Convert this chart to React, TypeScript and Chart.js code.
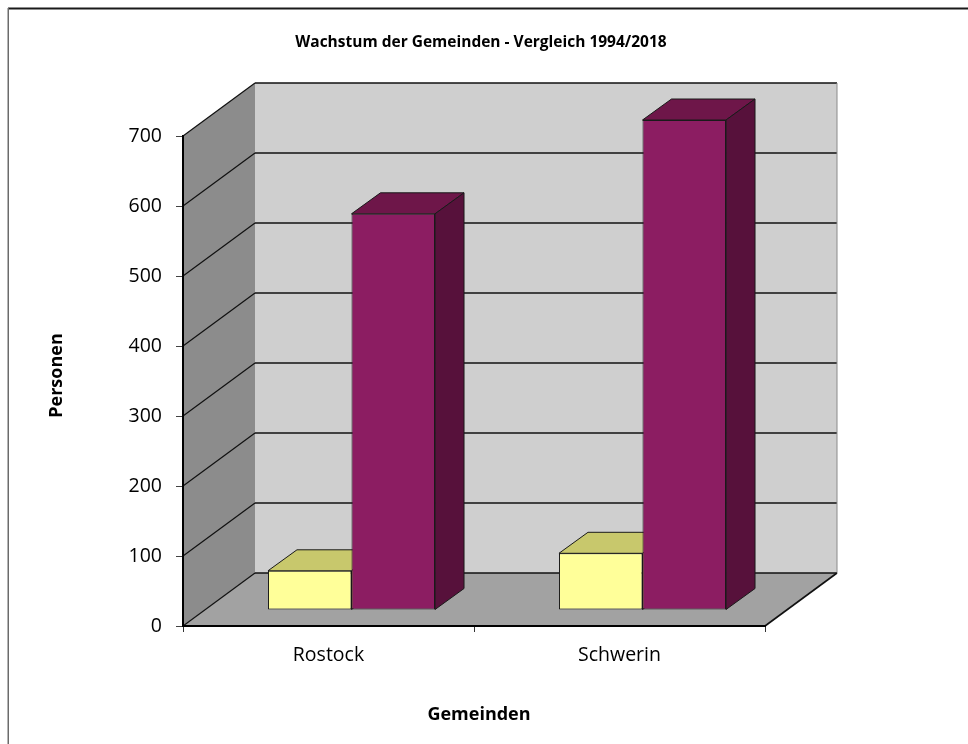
import React, { useEffect, useRef } from 'react';
import { Chart, registerables } from 'chart.js';

Chart.register(...registerables);

// ---- data ----
const TITLE = 'Wachstum der Gemeinden - Vergleich 1994/2018';
const X_TITLE = 'Gemeinden';
const Y_TITLE = 'Personen';
const categories = ['Rostock', 'Schwerin'];
const seriesNames = ['1994', '2018'];
const values1994 = [56, 81];
const values2018 = [566, 700];
const yMin = 0;
const yMax = 700;
const yStep = 100;

// ---- styles ----
const FRONT = ['#ffff99', '#8c1d62'];
const TOPC = ['#c8c86c', '#6e1649'];
const SIDEC = ['#a9a956', '#57113b'];
const W = 968;
const H = 744;
const DX = 72; // wall depth
const DY = -53;
const BX = 23; // bar front offset inside the depth
const BY = -16;
const BDX = 29; // bar depth
const BDY = -21;
const FONT = '"Open Sans", "DejaVu Sans", sans-serif';

function poly(ctx: CanvasRenderingContext2D, pts: number[][], fill: string, stroke?: string, lw = 1) {
  ctx.beginPath();
  ctx.moveTo(pts[0][0], pts[0][1]);
  for (let i = 1; i < pts.length; i++) ctx.lineTo(pts[i][0], pts[i][1]);
  ctx.closePath();
  ctx.fillStyle = fill;
  ctx.fill();
  if (stroke) {
    ctx.strokeStyle = stroke;
    ctx.lineWidth = lw;
    ctx.stroke();
  }
}

function seg(ctx: CanvasRenderingContext2D, x1: number, y1: number, x2: number, y2: number) {
  ctx.beginPath();
  ctx.moveTo(x1, y1);
  ctx.lineTo(x2, y2);
  ctx.stroke();
}

const threeD = {
  id: 'threeD',
  beforeDraw(chart: any) {
    const { ctx, chartArea: a, scales } = chart;
    const y = scales.y;
    const L = a.left, R = a.right, T = a.top, B = a.bottom;
    ctx.save();
    ctx.fillStyle = '#ffffff';
    ctx.fillRect(0, 0, W, H);
    // frame
    ctx.fillStyle = '#1a1a1a';
    ctx.fillRect(8, 7.5, W - 8, 2);
    ctx.fillStyle = '#6b6b6b';
    ctx.fillRect(7.5, 8, 1.5, H - 8);
    // back wall
    ctx.fillStyle = '#cfcfcf';
    ctx.fillRect(L + DX, T + DY, R - L, B - T);
    // side wall
    poly(ctx, [[L, T], [L + DX, T + DY], [L + DX, B + DY], [L, B]], '#8c8c8c');
    // floor
    poly(ctx, [[L, B], [R, B], [R + DX, B + DY], [L + DX, B + DY]], '#a2a2a2');
    // grid lines on walls
    ctx.strokeStyle = '#111111';
    for (let v = yMin; v <= yMax; v += yStep) {
      const py = y.getPixelForValue(v);
      ctx.lineWidth = 1.6;
      seg(ctx, L + DX, py + DY, R + DX, py + DY);
      ctx.lineWidth = 1.2;
      seg(ctx, L, py, L + DX, py + DY);
    }
    // edges
    ctx.strokeStyle = '#8a8a8a';
    ctx.lineWidth = 1;
    seg(ctx, R + DX, T + DY, R + DX, B + DY);
    ctx.strokeStyle = '#111111';
    ctx.lineWidth = 1.6;
    seg(ctx, R, B, R + DX, B + DY);
    ctx.restore();
  },
  beforeDatasetsDraw(chart: any) {
    const { ctx } = chart;
    ctx.save();
    chart.data.datasets.forEach((ds: any, di: number) => {
      const meta = chart.getDatasetMeta(di);
      meta.data.forEach((el: any) => {
        const p = el.getProps(['x', 'y', 'base', 'width'], true);
        const l = p.x - p.width / 2 + BX;
        const r = p.x + p.width / 2 + BX;
        const t = Math.min(p.y, p.base) + BY;
        const b = Math.max(p.y, p.base) + BY;
        poly(ctx, [[l, t], [r, t], [r + BDX, t + BDY], [l + BDX, t + BDY]], TOPC[di], '#1a1a1a', 1);
        poly(ctx, [[r, t], [r + BDX, t + BDY], [r + BDX, b + BDY], [r, b]], SIDEC[di], '#1a1a1a', 1);
      });
    });
    ctx.restore();
    ctx.save();
    ctx.translate(BX, BY);
  },
  afterDatasetsDraw(chart: any) {
    chart.ctx.restore();
  },
  afterDraw(chart: any) {
    const { ctx } = chart;
    ctx.save();
    ctx.fillStyle = '#000000';
    ctx.textBaseline = 'alphabetic';
    ctx.textAlign = 'center';
    ctx.font = `bold 15.5px ${FONT}`;
    ctx.fillText(TITLE, 481, 47);
    ctx.font = `bold 18px ${FONT}`;
    ctx.fillText(X_TITLE, 479, 720);
    ctx.translate(62, 375.5);
    ctx.rotate(-Math.PI / 2);
    ctx.fillText(Y_TITLE, 0, 0);
    ctx.restore();
  },
};

export default function App() {
  const ref = useRef<HTMLCanvasElement | null>(null);
  useEffect(() => {
    if (!ref.current) return;
    const chart = new Chart(ref.current, {
      type: 'bar',
      data: {
        labels: categories,
        datasets: [
          {
            label: seriesNames[0],
            data: values1994,
            backgroundColor: FRONT[0],
            borderColor: '#1a1a1a',
            borderWidth: 1,
            borderSkipped: false,
            clip: false,
            categoryPercentage: 0.574,
            barPercentage: 1,
          } as any,
          {
            label: seriesNames[1],
            data: values2018,
            backgroundColor: FRONT[1],
            borderColor: '#1a1a1a',
            borderWidth: 1,
            borderSkipped: false,
            clip: false,
            categoryPercentage: 0.574,
            barPercentage: 1,
          } as any,
        ],
      },
      options: {
        responsive: false,
        animation: false,
        devicePixelRatio: 1,
        layout: { padding: { left: 0, top: 136, right: 203, bottom: 0 } },
        plugins: {
          legend: { display: false },
          title: { display: false },
          tooltip: { enabled: false },
        },
        scales: {
          x: {
            grid: { drawOnChartArea: false, drawTicks: true, tickLength: 6, color: '#333333', offset: true },
            border: { display: true, color: '#000000', width: 2 },
            ticks: { color: '#000000', font: { family: FONT, size: 19.5 }, padding: 12 },
            afterFit: (s: any) => { s.height = 118; },
          },
          y: {
            min: yMin,
            max: yMax,
            grid: { drawOnChartArea: false, drawTicks: true, tickLength: 7, color: '#444444' },
            border: { display: true, color: '#000000', width: 2 },
            ticks: { stepSize: yStep, color: '#000000', font: { family: FONT, size: 19.5 }, padding: 14 },
            afterFit: (s: any) => { s.width = 183; },
          },
        },
      } as any,
      plugins: [threeD],
    });
    return () => chart.destroy();
  }, []);
  return (
    <div style={{ position: 'fixed', left: 0, top: 0, width: W, height: H }}>
      <canvas ref={ref} width={W} height={H} style={{ display: 'block' }} />
    </div>
  );
}
